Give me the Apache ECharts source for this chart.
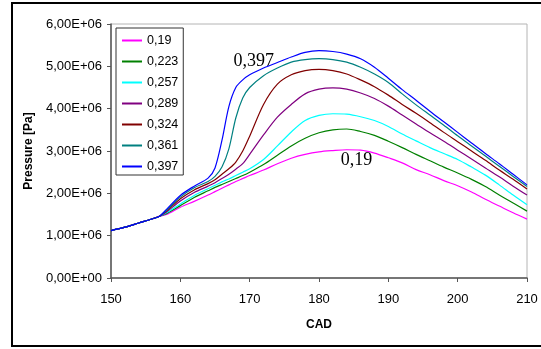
<!DOCTYPE html>
<html>
<head>
<meta charset="utf-8">
<script src="https://cdn.jsdelivr.net/npm/echarts@6/dist/echarts.min.js"></script>
<style>
html,body{margin:0;padding:0;background:#fff;}
#c{width:541px;height:349px;}
</style>
</head>
<body>
<div id="c"></div>
<script>
// CAD values (x) shared by all series
const cad = [150,152,154,156,157,158,160,162,164,165,166,167,168,169,170,172,174,176,178,180,182,184,186,188,190,192,194,196,198,200,202,204,206,208,210];
// Pressure in units of 1E+06 Pa, per equivalence ratio
const p019  = [1.12,1.20,1.30,1.40,1.46,1.50,1.67,1.81,1.96,2.04,2.12,2.20,2.28,2.35,2.42,2.55,2.70,2.83,2.92,2.98,3.01,3.03,3.02,2.95,2.84,2.72,2.56,2.44,2.30,2.18,2.03,1.86,1.70,1.54,1.39];
const p0223 = [1.12,1.20,1.30,1.40,1.46,1.52,1.71,1.90,2.06,2.14,2.21,2.28,2.35,2.42,2.50,2.68,2.90,3.12,3.30,3.43,3.50,3.52,3.46,3.37,3.23,3.08,2.92,2.77,2.62,2.48,2.33,2.16,1.96,1.77,1.58];
const p0257 = [1.12,1.20,1.30,1.40,1.46,1.54,1.75,1.95,2.11,2.19,2.27,2.34,2.42,2.50,2.58,2.80,3.12,3.45,3.72,3.84,3.88,3.87,3.81,3.72,3.58,3.40,3.24,3.08,2.94,2.80,2.62,2.43,2.20,1.96,1.73];
const p0289 = [1.12,1.20,1.30,1.40,1.46,1.56,1.82,2.02,2.17,2.25,2.35,2.45,2.57,2.70,2.92,3.38,3.80,4.10,4.35,4.46,4.49,4.46,4.37,4.24,4.06,3.85,3.64,3.43,3.23,3.02,2.81,2.60,2.39,2.17,1.96];
const p0324 = [1.12,1.20,1.30,1.40,1.46,1.58,1.87,2.08,2.23,2.32,2.45,2.58,2.74,3.00,3.35,4.10,4.58,4.80,4.90,4.93,4.90,4.82,4.68,4.52,4.32,4.10,3.89,3.67,3.44,3.22,3.00,2.78,2.55,2.33,2.10];
const p0361 = [1.12,1.20,1.30,1.40,1.46,1.60,1.91,2.13,2.28,2.40,2.62,3.05,3.78,4.25,4.50,4.78,4.96,5.10,5.16,5.18,5.16,5.10,4.98,4.82,4.62,4.35,4.09,3.85,3.61,3.36,3.12,2.88,2.64,2.40,2.16];
const p0397 = [1.12,1.20,1.30,1.40,1.46,1.62,1.95,2.17,2.36,2.60,3.25,4.05,4.50,4.68,4.80,4.96,5.09,5.22,5.33,5.37,5.35,5.29,5.18,4.98,4.72,4.45,4.20,3.94,3.69,3.44,3.19,2.94,2.70,2.45,2.20];
const names = ['0,19','0,223','0,257','0,289','0,324','0,361','0,397'];
const values = [p019,p0223,p0257,p0289,p0324,p0361,p0397];
const colors = ['#FF00FF','#008000','#00FFFF','#800080','#800000','#008080','#0000FF'];
const yTicks = [0,1e6,2e6,3e6,4e6,5e6,6e6];
const xTicks = [150,160,170,180,190,200,210];
// annotations: [text, series index, CAD, pressure(1E+06)]
const notes = [['0,397',6,170.6,5.13],['0,19',0,185.4,2.79]];

const chart = echarts.init(document.getElementById('c'), null, {renderer:'canvas'});
const fmtY = v => {
  if (v === 0) return '0,00E+00';
  return (v/1e6).toFixed(2).replace('.', ',') + 'E+06';
};
const series = names.map((n,i) => {
  const s = {
    name: n, type: 'line', symbol: 'none', smooth: 0.3,
    data: cad.map((x,j) => [x, values[i][j]*1e6]),
    lineStyle: {color: colors[i], width: 1.2},
    itemStyle: {color: colors[i]},
    z: 2 + i
  };
  const ns = notes.filter(a => a[1] === i);
  if (ns.length) {
    s.markPoint = {
      symbol: 'circle', symbolSize: 0, silent: true,
      data: ns.map(a => ({coord: [a[2], a[3]*1e6], value: a[0]})),
      label: {show: true, position: 'inside', formatter: p => p.value,
        fontFamily: '"Liberation Serif","Times New Roman",serif', fontSize: 18, color: '#000'}
    };
  }
  return s;
});
chart.setOption({
  animation: false,
  backgroundColor: '#fff',
  grid: {left: 111, top: 24, width: 416, height: 254, show: true, borderColor: '#b4b4b4', borderWidth: 1, outerBoundsMode: 'none', containLabel: false},
  graphic: [{type: 'rect', shape: {x: 12, y: 3, width: 560, height: 343}, style: {fill: 'none', stroke: '#000', lineWidth: 2}, silent: true, z: 100}],
  legend: {
    orient: 'vertical', left: 116, top: 28, data: names,
    itemWidth: 20, itemHeight: 14, itemGap: 8,
    padding: [6, 5, 2, 5],
    borderColor: '#333', borderWidth: 1, backgroundColor: '#fff',
    textStyle: {fontFamily: '"Liberation Sans",Arial,sans-serif', fontSize: 12.5, color: '#000'},
    itemStyle: {opacity: 0}
  },
  xAxis: {
    type: 'value', min: xTicks[0], max: xTicks[xTicks.length-1], interval: 10,
    name: 'CAD', nameLocation: 'middle', nameGap: 41,
    nameTextStyle: {fontFamily: '"Liberation Sans",Arial,sans-serif', fontSize: 12, fontWeight: 'bold', color: '#000'},
    axisLine: {show: true, onZero: false, lineStyle: {color: '#555', width: 1.5}},
    axisTick: {show: true, length: 4, lineStyle: {color: '#555'}},
    axisLabel: {margin: 15, fontFamily: '"Liberation Sans",Arial,sans-serif', fontSize: 13, color: '#000'},
    splitLine: {show: false}
  },
  yAxis: {
    type: 'value', min: yTicks[0], max: yTicks[yTicks.length-1], interval: 1e6,
    name: 'Pressure [Pa]', nameLocation: 'middle', nameGap: 70,
    nameTextStyle: {fontFamily: '"Liberation Sans",Arial,sans-serif', fontSize: 12, fontWeight: 'bold', color: '#000'},
    axisLine: {show: true, onZero: false, lineStyle: {color: '#555', width: 1.5}},
    axisTick: {show: true, length: 4, lineStyle: {color: '#555'}},
    axisLabel: {margin: 9, formatter: fmtY, fontFamily: '"Liberation Sans",Arial,sans-serif', fontSize: 13, color: '#000'},
    splitLine: {show: false}
  },
  series: series
});
</script>
</body>
</html>
